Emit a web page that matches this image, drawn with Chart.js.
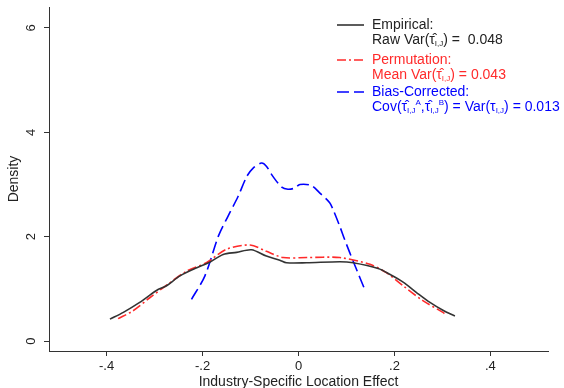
<!DOCTYPE html>
<html>
<head>
<meta charset="utf-8">
<script src="https://cdn.jsdelivr.net/npm/chart.js@4"></script>
<style>
  html, body { margin: 0; padding: 0; background: #fff; }
  #wrap { width: 564px; height: 388px; }
</style>
</head>
<body>
<div id="wrap"><canvas id="densityChart" width="564" height="388"></canvas></div>
<script>
// Kernel density curves of the location effect

const xTicks = [-0.4, -0.2, 0, 0.2, 0.4];
const xTickLabels = ['-.4', '-.2', '0', '.2', '.4'];
const yTicks = [0, 2, 4, 6];

// Empirical (raw) estimates
const empX = [-0.393, -0.365, -0.331, -0.296, -0.275, -0.247, -0.206, -0.185, -0.157, -0.129, -0.098,
              -0.067, -0.039, -0.025, 0.017, 0.086, 0.114, 0.166, 0.19, 0.218, 0.246, 0.274, 0.301, 0.326];
const empY = [0.42, 0.55, 0.74, 0.97, 1.06, 1.25, 1.43, 1.51, 1.66, 1.70, 1.75,
              1.63, 1.55, 1.50, 1.50, 1.52, 1.50, 1.39, 1.28, 1.13, 0.93, 0.74, 0.59, 0.48];

// Permutation means
const permX = [-0.376, -0.345, -0.31, -0.275, -0.233, -0.192, -0.15, -0.101, -0.067, -0.032,
               0.017, 0.086, 0.149, 0.183, 0.218, 0.26, 0.301, 0.305];
const permY = [0.43, 0.58, 0.83, 1.07, 1.34, 1.50, 1.76, 1.84, 1.72, 1.60,
               1.60, 1.60, 1.47, 1.31, 1.06, 0.77, 0.55, 0.52];

// Bias-corrected split-sample covariance
const biasX = [-0.223, -0.195, -0.167, -0.147, -0.126, -0.108, -0.095, -0.077, -0.067, -0.053,
               -0.035, -0.022, -0.008, 0.003, 0.027, 0.044, 0.065, 0.072, 0.086, 0.096,
               0.107, 0.121, 0.138];
const biasY = [0.80, 1.25, 2.01, 2.39, 2.77, 3.15, 3.31, 3.41, 3.35, 3.15,
               2.95, 2.91, 2.93, 3.00, 2.98, 2.84, 2.65, 2.52, 2.20, 1.95,
               1.69, 1.37, 0.99];

const FONT = '"Liberation Sans", Arial, Helvetica, sans-serif';
const INK = '#222';

function toPoints(xs, ys) {
    return xs.map((x, i) => ({ x: x, y: ys[i] }));
}

// legend drawn by hand so the tau subscripts/superscripts can be set
const legendRows = [
    { color: '#333', dash: [], lines: [
        [['Empirical:', 'n']],
        [['Raw Var(τ̂', 'n'], ['I,J', 'sub'], [') =  0.048', 'n']]
    ]},
    { color: '#ff2a2a', dash: [9, 3, 2, 3], lines: [
        [['Permutation:', 'n']],
        [['Mean Var(τ̂', 'n'], ['I,J', 'sub'], [') = 0.043', 'n']]
    ]},
    { color: '#0000ff', dash: [12, 5], lines: [
        [['Bias-Corrected:', 'n']],
        [['Cov(τ̂', 'n'], ['I,J', 'sub'], ['A', 'sup'], [',τ̂', 'n'], ['I,J', 'sub'], ['B', 'sup'],
         [') = Var(τ', 'n'], ['I,J', 'sub'], [') = 0.013', 'n']]
    ]}
];

const legendPlugin = {
    id: 'stataLegend',
    afterDraw(chart) {
        const ctx = chart.ctx;
        const rowY = [25, 60, 92];
        const lineGap = 15;
        ctx.save();
        legendRows.forEach((row, i) => {
            const y0 = rowY[i];
            ctx.strokeStyle = row.color;
            ctx.lineWidth = 1.6;
            ctx.setLineDash(row.dash);
            ctx.beginPath();
            ctx.moveTo(337, y0);
            ctx.lineTo(364, y0);
            ctx.stroke();
            ctx.setLineDash([]);
            ctx.fillStyle = row.color === '#333' ? INK : row.color;
            ctx.textBaseline = 'middle';
            row.lines.forEach((parts, j) => {
                let x = 372;
                const y = y0 + j * lineGap;
                parts.forEach(([txt, kind]) => {
                    let dy = 0;
                    if (kind === 'sub') { ctx.font = '8px ' + FONT; dy = 4; }
                    else if (kind === 'sup') { ctx.font = '8px ' + FONT; dy = -4; }
                    else { ctx.font = '14px ' + FONT; }
                    ctx.fillText(txt, x, y + dy);
                    x += ctx.measureText(txt).width;
                });
            });
        });
        ctx.restore();
    }
};

const ctx = document.getElementById('densityChart');

new Chart(ctx, {
    type: 'scatter',
    data: {
        datasets: [
            {
                label: 'Empirical',
                data: toPoints(empX, empY),
                showLine: true,
                borderColor: '#333',
                borderWidth: 1.6,
                pointRadius: 0,
                tension: 0.3
            },
            {
                label: 'Permutation',
                data: toPoints(permX, permY),
                showLine: true,
                borderColor: '#ff2a2a',
                borderWidth: 1.6,
                borderDash: [9, 3, 2, 3],
                pointRadius: 0,
                tension: 0.3
            },
            {
                label: 'Bias-Corrected',
                data: toPoints(biasX, biasY),
                showLine: true,
                borderColor: '#0000ff',
                borderWidth: 1.6,
                borderDash: [12, 5],
                pointRadius: 0,
                tension: 0.3
            }
        ]
    },
    options: {
        responsive: false,
        animation: false,
        layout: { padding: { top: 7, right: 16, left: 0, bottom: 0 } },
        plugins: {
            legend: { display: false },
            tooltip: { enabled: false }
        },
        scales: {
            x: {
                type: 'linear',
                min: -0.52,
                max: 0.52,
                afterFit: scale => { scale.height = 37; },
                afterBuildTicks: scale => { scale.ticks = xTicks.map(v => ({ value: v })); },
                ticks: {
                    color: INK,
                    padding: 3,
                    font: { family: FONT, size: 13 },
                    maxRotation: 0,
                    callback: (value) => xTickLabels[xTicks.indexOf(value)]
                },
                grid: { drawOnChartArea: false, drawTicks: true, tickLength: 5, color: '#333' },
                border: { display: true, color: '#333', width: 1 },
                title: {
                    display: true,
                    text: 'Industry-Specific Location Effect',
                    color: INK,
                    font: { family: FONT, size: 14, lineHeight: 1 },
                    padding: { top: 0, bottom: -1 }
                }
            },
            y: {
                min: -0.19,
                max: 6.4,
                afterFit: scale => {
                    scale.width = 49;
                    // rotated labels shouldn't push the plot area down
                    scale.paddingTop = 0;
                    scale.paddingBottom = 0;
                },
                afterBuildTicks: scale => { scale.ticks = yTicks.map(v => ({ value: v })); },
                ticks: {
                    color: INK,
                    padding: 9,
                    minRotation: 90,
                    maxRotation: 90,
                    crossAlign: 'center',
                    font: { family: FONT, size: 13 },
                    callback: (value) => String(value)
                },
                grid: { drawOnChartArea: false, drawTicks: true, tickLength: 5, color: '#333' },
                border: { display: true, color: '#333', width: 1 },
                title: {
                    display: true,
                    text: 'Density',
                    color: INK,
                    font: { family: FONT, size: 14, lineHeight: 1 },
                    padding: { top: 7, bottom: 0 }
                }
            }
        }
    },
    plugins: [legendPlugin]
});
</script>
</body>
</html>
